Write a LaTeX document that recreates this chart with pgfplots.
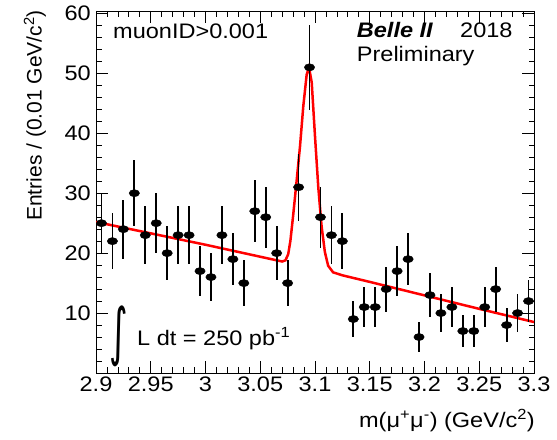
\documentclass[border=0pt]{standalone}
\usepackage{pgfplots}
\pgfplotsset{compat=1.18}
\usepackage{pgfplotstable}
\usepackage{fontspec}
\usepackage{graphicx}
\setmainfont{Liberation Sans}[FakeStretch=1.12]
\newfontfamily\ylfont{Liberation Sans}
\newfontfamily\dejavu{DejaVu Sans}
\newcommand\fs{\fontsize{21bp}{25bp}\selectfont}
\pgfplotstableread{
x y e
2.905 25 5.00
2.915 22 4.69
2.925 24 4.90
2.935 30 5.48
2.945 23 4.80
2.955 25 5.00
2.965 20 4.47
2.975 23 4.80
2.985 23 4.80
2.995 17 4.12
3.005 16 4.00
3.015 23 4.80
3.025 19 4.36
3.035 15 3.87
3.045 27 5.20
3.055 26 5.10
3.065 20 4.47
3.075 15 3.87
3.085 31 5.57
3.095 51 7.14
3.105 26 5.10
3.115 23 4.80
3.125 22 4.69
3.135 9 3.00
3.145 11 3.32
3.155 11 3.32
3.165 14 3.74
3.175 17 4.12
3.185 19 4.36
3.195 6 2.45
3.205 13 3.61
3.215 10 3.16
3.225 11 3.32
3.235 7 2.65
3.245 7 2.65
3.255 11 3.32
3.265 14 3.74
3.275 8 2.83
3.285 10 3.16
3.295 12 3.46
}\datatable
\begin{document}
\begin{tikzpicture}
\path[use as bounding box] (-96bp,-67bp) rectangle (461bp,373bp);
\begin{axis}[name=ax, at={(0,0)}, anchor=south west, scale only axis,
  width=438bp, height=362bp,
  xmin=2.9, xmax=3.3, ymin=0, ymax=60.4,
  xtick={2.9,2.95,3,3.05,3.1,3.15,3.2,3.25,3.3},
  xticklabels={2.9,2.95,3,3.05,3.1,3.15,3.2,3.25,3.3},
  minor x tick num=4,
  ytick={0,10,20,30,40,50,60},
  yticklabels={,10,20,30,40,50,60},
  minor y tick num=4,
  major tick length=12bp, minor tick length=5.5bp,
  tick style={black, line width=0.8bp},
  axis line style={line width=0.8bp},
  /pgf/number format/assume math mode=true,
  ticklabel style={font=\fs},
  xticklabel style={anchor=base, yshift=-19bp, inner sep=0pt},
  yticklabel style={anchor=east, xshift=-5bp, inner sep=0pt},
]
\addplot[red, line width=2.5bp, no marks] coordinates {
(2.900,25.2) (2.950,23.3) (3.000,21.4) (3.050,19.4) (3.065,18.8) (3.070,18.6)
(3.073,18.8) (3.0755,19.8) (3.0775,22.0) (3.080,26.2) (3.0833,32.2) (3.0863,37.8)
(3.0893,44.5) (3.0924,49.8) (3.0945,51.0) (3.0970,48.5) (3.1000,39.5) (3.1030,31.0)
(3.1060,24.5) (3.1090,20.2) (3.1120,17.9) (3.1165,16.8) (3.125,16.3) (3.150,15.2)
(3.200,12.95) (3.250,10.7) (3.300,8.5)
};
\addplot[only marks, mark=*, mark size=3.6bp, mark options={xscale=1.45, fill=black, draw=black},
  error bars/.cd, y dir=both, y explicit, error bar style={line width=1.8bp, black}, error mark=none]
  table[x=x, y=y, y error=e] {\datatable};
\end{axis}
\node[anchor=base west, font=\fs, inner sep=0pt] at ([xshift=17bp,yshift=-27.5bp]ax.north west) {muonID>0.001};
\node[anchor=base west, font=\fs, inner sep=0pt] at ([xshift=260.7bp,yshift=-26.3bp]ax.north west) {\textbf{\textit{Belle II}}};
\node[anchor=base west, font=\fs, inner sep=0pt] at ([xshift=364bp,yshift=-26.3bp]ax.north west) {2018};
\node[anchor=base west, font=\fs, inner sep=0pt] at ([xshift=260.7bp,yshift=-50bp]ax.north west) {Preliminary};
\node[anchor=center, inner sep=0pt] at ([xshift=23bp,yshift=37bp]ax.south west) {\scalebox{1.7}[3.0]{\dejavu\fs ∫}};
\node[anchor=base west, font=\fs, inner sep=0pt] at ([xshift=41bp,yshift=28bp]ax.south west) {L dt = 250 pb\textsuperscript{-1}};
\node[anchor=base east, font=\fs, inner sep=0pt] at ([xshift=1bp,yshift=-54bp]ax.south east) {m(μ\textsuperscript{+}μ\textsuperscript{-}) (GeV/c\textsuperscript{2})};
\node[rotate=90, anchor=east, inner sep=0pt, font=\ylfont\fs] at ([xshift=-61bp,yshift=1bp]ax.north west) {Entries / (0.01 GeV/c\textsuperscript{2})};
\end{tikzpicture}
\end{document}
